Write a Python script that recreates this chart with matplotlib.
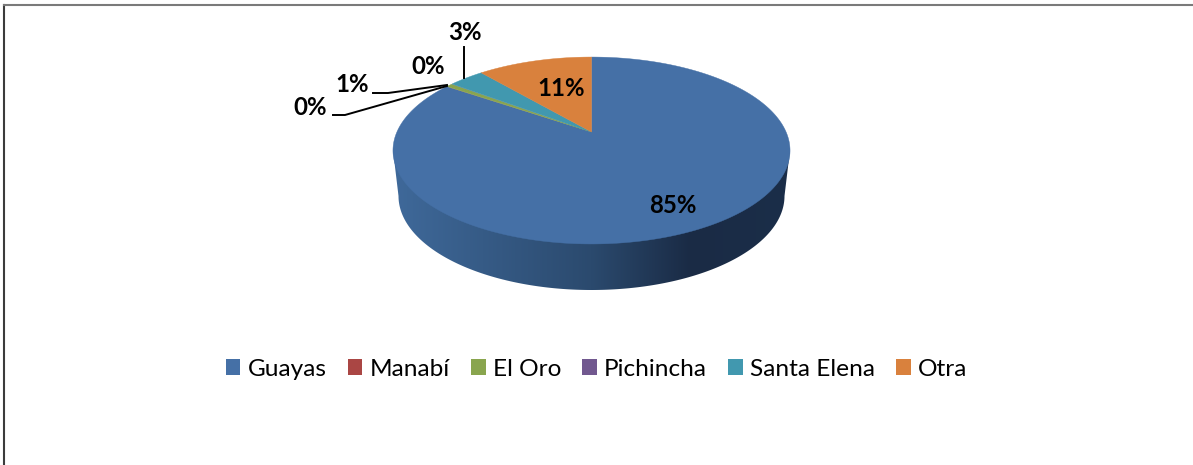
import numpy as np
import matplotlib
matplotlib.use("Agg")
from matplotlib import pyplot as plt
from matplotlib.patches import Polygon, Patch

provincias = ["Guayas", "Manabí", "El Oro", "Pichincha", "Santa Elena", "Otra"]
valores = [84.5, 0.05, 0.6, 0.05, 3.5, 11.3]
etiquetas = ["85%", "0%", "1%", "0%", "3%", "11%"]
colores = ["#4570a6", "#aa4644", "#89a54e", "#71588f", "#4198af", "#d9813d"]

plt.rcParams['font.family'] = ['Lato', 'DejaVu Sans']

fig = plt.figure(figsize=(11.93, 4.65), dpi=100)
ax = fig.add_axes([0, 0, 1, 1])
ax.set_xlim(0, 1193)
ax.set_ylim(465, 0)
ax.axis("off")

# centro del pastel y perspectiva (pixeles)
cx, cy = 591.5, 132
k = 0.198
a = 89.8
b = 194.6

def proyecta(ang):
    # ang en grados, desde arriba en sentido horario
    t = np.radians(ang)
    x = np.sin(t)
    y = np.cos(t)
    w = 1 / (1 + k * y)
    return cx + b * x * w, cy - a * y * w

# pared lateral con degradado
t = np.radians(np.linspace(0, 180, 200))
ex = 591.5 - 193 * np.cos(t)
ey = 196 + 94 * np.sin(t)
pared = np.column_stack([np.r_[393, ex, 790], np.r_[150, ey, 150]])
clip = Polygon(pared, closed=True, transform=ax.transData, fc="none", ec="none")
ax.add_patch(clip)
stops = np.array([[0x3f, 0x69, 0x9a], [0x2b, 0x4a, 0x6e], [0x1a, 0x2b, 0x45], [0x1b, 0x2e, 0x49]]) / 255
xs = np.linspace(0, 1, 256)
grad = np.column_stack([np.interp(xs, [0, 0.5, 0.75, 1], stops[:, i]) for i in range(3)])
im = ax.imshow(grad[np.newaxis, :, :], extent=[393, 790, 295, 150], aspect="auto", zorder=1)
im.set_clip_path(clip)
ax.set_xlim(0, 1193)
ax.set_ylim(465, 0)

# rebanadas
total = sum(valores)
inicio = 0
for v, c in zip(valores, colores):
    fin = inicio + v / total * 360
    angs = np.linspace(inicio, fin, max(int(v * 4), 2))
    px, py = proyecta(angs)
    pts = np.column_stack([np.r_[cx, px], np.r_[cy, py]])
    # las rebanadas casi vacias no llevan borde, taparian la verde
    ax.add_patch(Polygon(pts, closed=True, fc=c, ec=c, lw=0.3 if v > 0.1 else 0, zorder=2))
    inicio = fin

# etiquetas de datos
pos_etq = [(673, 205), (310, 107), (352, 85), (428, 67), (465, 32), (561, 88)]
for e, (x, y) in zip(etiquetas, pos_etq):
    ax.text(x, y, e, ha="center", va="center", fontsize=17.3, fontweight="bold", color="black", zorder=4)

# lineas guia
ax.plot([333, 345, 447], [115, 115, 86], color="black", lw=1.4, zorder=3)
ax.plot([373, 388, 447], [93, 93, 85], color="black", lw=1.4, zorder=3)
ax.plot([464, 464], [47, 78], color="black", lw=1.4, zorder=3)

# borde
ax.plot([4, 4], [465, 5], color="#3c3c3c", lw=1.5, zorder=3)
ax.plot([4, 1193], [5, 5], color="#7a7a7a", lw=1.5, zorder=3)

handles = [Patch(fc=c, ec="none", label=p) for p, c in zip(provincias, colores)]
ax.legend(handles=handles, ncol=6, loc="center", bbox_to_anchor=(596.5 / 1193, 1 - 369 / 465),
          frameon=False, fontsize=17.6, handlelength=0.61, handleheight=0.61,
          handletextpad=0.29, columnspacing=0.86, borderpad=0)

fig.savefig("out.png", dpi=100)
